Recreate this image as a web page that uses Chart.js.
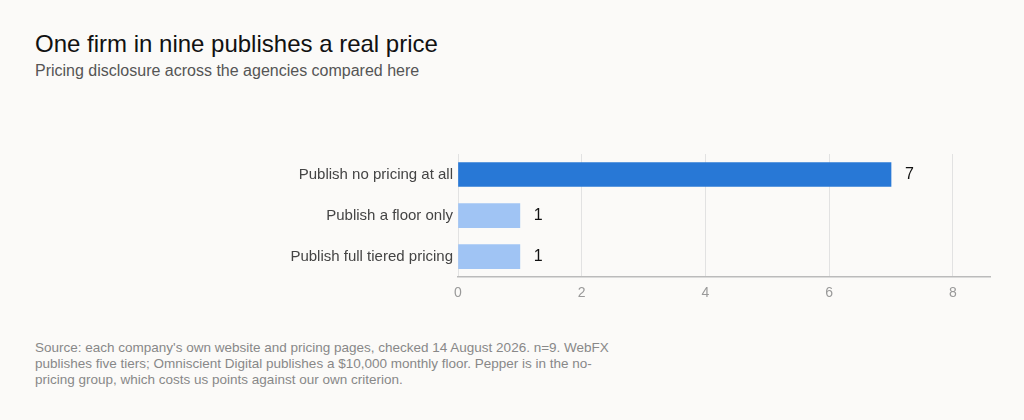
<!DOCTYPE html>
<html><head><meta charset="utf-8">
<script src="https://cdn.jsdelivr.net/npm/chart.js@4"></script>
<style>
body{margin:0;background:#fbfaf8;font-family:"Liberation Sans",Arial,sans-serif;width:1024px;height:420px;position:relative;overflow:hidden}
#t{position:absolute;left:35px;top:30px;font-size:24px;color:#111}
#s{position:absolute;left:35px;top:62px;font-size:16px;color:#555}
#f{position:absolute;left:35px;top:340px;font-size:13.5px;color:#888;line-height:16px;width:575px}
#w{position:absolute;left:0;top:140px;width:1024px;height:170px}
</style></head><body>
<div id="t">One firm in nine publishes a real price</div>
<div id="s">Pricing disclosure across the agencies compared here</div>
<div id="w"><canvas id="c"></canvas></div>
<div id="f">Source: each company's own website and pricing pages, checked 14 August 2026. n=9. WebFX publishes five tiers; Omniscient Digital publishes a $10,000 monthly floor. Pepper is in the no-pricing group, which costs us points against our own criterion.</div>
<script>
const categories=["Publish no pricing at all","Publish a floor only","Publish full tiered pricing"];
const counts=[7,1,1];
const barColors=["#2878d6","#a0c4f4","#a0c4f4"];
const tickValues=[0,2,4,6,8];
const labelsPlugin={id:"vals",afterDatasetsDraw(ch){const c=ch.ctx;const m=ch.getDatasetMeta(0);c.save();c.font="16px 'Liberation Sans',Arial";c.fillStyle="#111";c.textBaseline="middle";m.data.forEach((b,i)=>{c.fillText(String(counts[i]),b.x+14,b.y);});c.restore();}};
new Chart(document.getElementById("c"),{type:"bar",
data:{labels:categories,datasets:[{data:counts,backgroundColor:barColors,barThickness:24,borderWidth:0}]},
options:{indexAxis:"y",responsive:true,maintainAspectRatio:false,animation:false,
layout:{padding:{top:14,right:34,left:0,bottom:0}},
plugins:{legend:{display:false},tooltip:{enabled:false}},
scales:{x:{min:0,max:8.6,afterBuildTicks(s){s.ticks=tickValues.map(v=>({value:v}));},
 grid:{color:"#e2e2e2",drawTicks:false},border:{color:"#bbb",width:1.5},
 ticks:{color:"#999",font:{size:14},padding:8}},
 y:{grid:{display:false},border:{display:false},afterFit(s){s.width=458;},
 ticks:{color:"#444",font:{size:15},padding:-3}}}},
plugins:[labelsPlugin]});
</script></body></html>
